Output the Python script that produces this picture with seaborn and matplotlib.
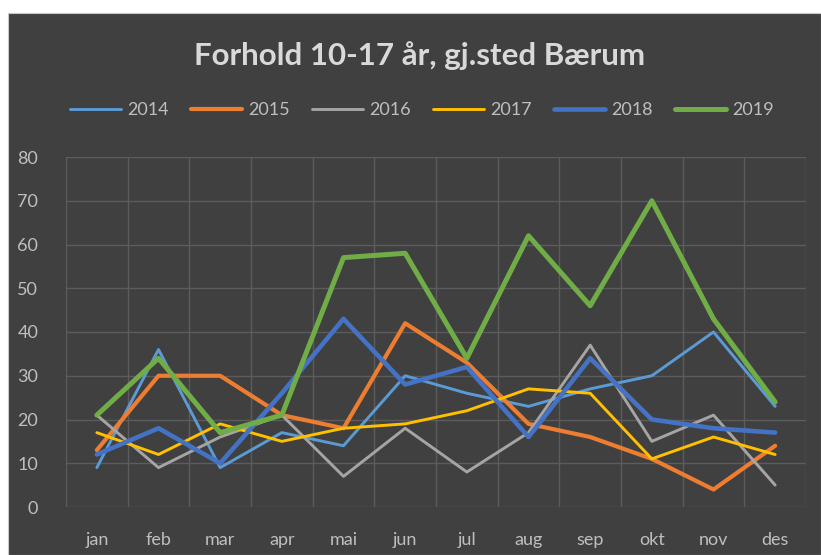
import matplotlib
matplotlib.use("Agg")
import matplotlib.pyplot as plt
from matplotlib.patches import Rectangle
from matplotlib.ticker import MultipleLocator
import seaborn as sns
import pandas as pd

months = ["jan", "feb", "mar", "apr", "mai", "jun", "jul", "aug", "sep", "okt", "nov", "des"]
years = ["2014", "2015", "2016", "2017", "2018", "2019"]
v2014 = [9, 36, 9, 17, 14, 30, 26, 23, 27, 30, 40, 23]
v2015 = [13, 30, 30, 21, 18, 42, 33, 19, 16, 11, 4, 14]
v2016 = [21, 9, 16, 21, 7, 18, 8, 17, 37, 15, 21, 5]
v2017 = [17, 12, 19, 15, 18, 19, 22, 27, 26, 11, 16, 12]
v2018 = [12, 18, 10, 26, 43, 28, 32, 16, 34, 20, 18, 17]
v2019 = [21, 34, 17, 21, 57, 58, 34, 62, 46, 70, 43, 24]
series = [v2014, v2015, v2016, v2017, v2018, v2019]
title = "Forhold 10-17 år, gj.sted Bærum"

colors = ["#5B9BD5", "#ED7D31", "#A5A5A5", "#FFC000", "#4472C4", "#70AD47"]
widths = [2.1, 3.0, 2.1, 2.1, 3.3, 3.6]

sns.set_theme(style="dark")
plt.rcParams["font.family"] = ["Lato", "DejaVu Sans"]

bg = "#404040"
grid_c = "#5C5C5C"
txt = "#BFBFBF"

fig = plt.figure(figsize=(8.21, 5.55), dpi=100)
fig.patch.set_facecolor("white")
fig.patches.append(Rectangle((8 / 821, 0), 1 - 8 / 821, (555 - 13) / 555,
                             transform=fig.transFigure, facecolor=bg,
                             edgecolor="#C8C8C8", linewidth=0.8, zorder=-5))

ax = fig.add_axes([66 / 821, 48 / 555, 740 / 821, 350 / 555])
ax.set_facecolor(bg)

df = pd.DataFrame({"month": months * len(years),
                   "year": [y for y in years for _ in months],
                   "value": [v for s in series for v in s]})
for yr, col, lw in zip(years, colors, widths):
    sub = df[df["year"] == yr]
    sns.lineplot(data=sub, x="month", y="value", ax=ax, color=col, linewidth=lw,
                 sort=False, label=yr, solid_joinstyle="round", solid_capstyle="round")

ax.set_xlim(-0.5, 11.5)
ax.set_ylim(0, 80)
ax.yaxis.set_major_locator(MultipleLocator(10))
ax.set_xticks(range(12))
ax.set_xticklabels(months)
ax.set_xticks([i - 0.5 for i in range(13)], minor=True)
ax.grid(False)
ax.grid(True, axis="y", which="major", color=grid_c, linewidth=1.0)
ax.grid(True, axis="x", which="minor", color=grid_c, linewidth=1.0)
ax.set_axisbelow(True)
for s in ax.spines.values():
    s.set_visible(False)
ax.tick_params(axis="both", which="both", length=0, colors=txt, labelsize=13)
ax.tick_params(axis="y", pad=20)
ax.tick_params(axis="x", pad=18)
ax.set_xlabel("")
ax.set_ylabel("")
for lab in ax.get_xticklabels() + ax.get_yticklabels():
    lab.set_color(txt)

handles, labels = ax.get_legend_handles_labels()
ax.get_legend().remove()
leg = fig.legend(handles, labels, loc="center", bbox_to_anchor=(422 / 821, 1 - 110 / 555),
                 ncol=6, frameon=False, fontsize=13, handlelength=2.8,
                 handletextpad=0.35, columnspacing=1.25)
for t in leg.get_texts():
    t.set_color(txt)

fig.text(420 / 821, 1 - 56 / 555, title, ha="center", va="center",
         fontsize=22.5, fontweight="bold", color="#D9D9D9")

fig.savefig("out.png", dpi=100, facecolor=fig.get_facecolor())
